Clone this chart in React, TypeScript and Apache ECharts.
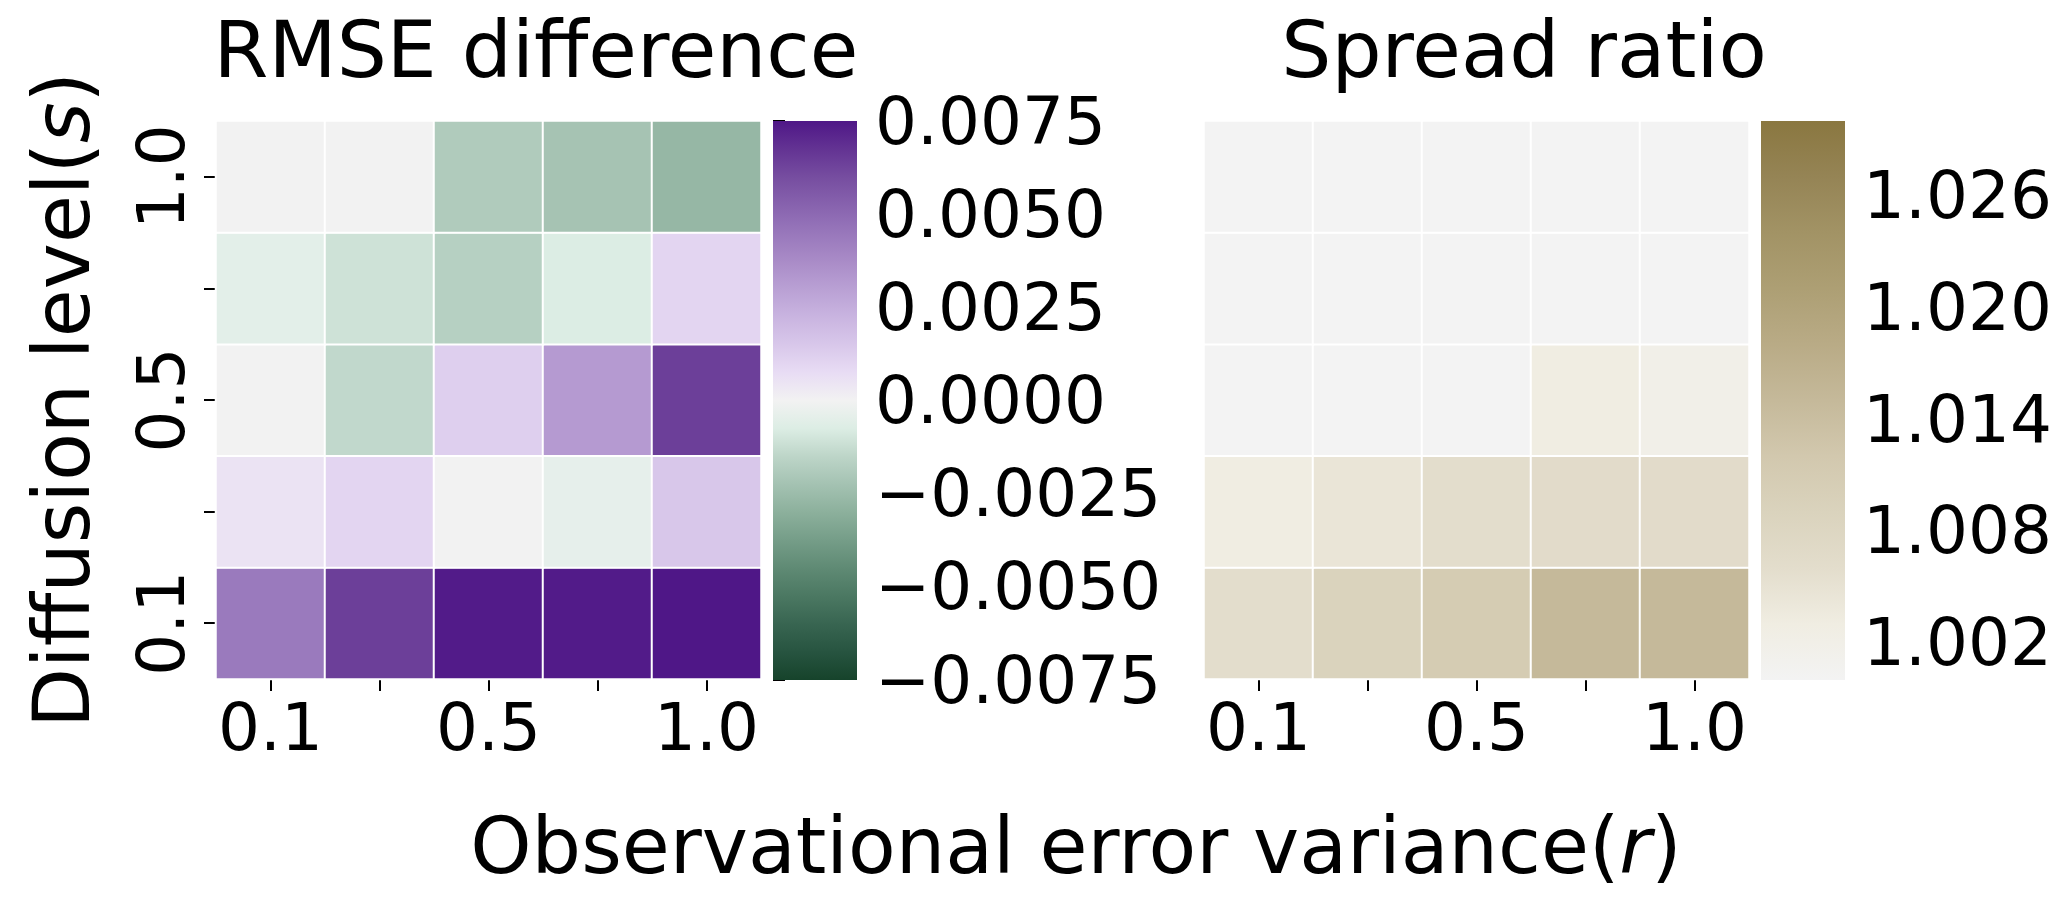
import React, { useEffect, useRef } from "react";
import * as echarts from "echarts";

// Observational error variance (r) – columns
const rLevels = ["0.1", "0.25", "0.5", "0.75", "1.0"];
// Diffusion level (s) – rows, bottom to top
const sLevels = ["0.1", "0.25", "0.5", "0.75", "1.0"];

// RMSE difference, rows by s (bottom → top), columns by r
const rmseDiff: number[][] = [
  [0.0044, 0.0064, 0.0074, 0.0074, 0.0075],
  [0.0005, 0.001, 0.0, -0.0004, 0.0015],
  [0.0, -0.0014, 0.0012, 0.0032, 0.0064],
  [-0.0005, -0.0011, -0.0017, -0.00075, 0.001],
  [0.0, 0.0, -0.0019, -0.0022, -0.0027],
];

// Spread ratio, rows by s (bottom → top), columns by r
const spreadRatio: number[][] = [
  [1.006, 1.009, 1.011, 1.015, 1.015],
  [1.003, 1.0045, 1.006, 1.0065, 1.0065],
  [1.0, 1.0, 1.0, 1.003, 1.002],
  [1.0, 1.0, 1.0, 1.0, 1.0],
  [1.0, 1.0, 1.0, 1.0, 1.0],
];

const rmseRange = [-0.0075, 0.0075];
const rmseTicks = [-0.0075, -0.005, -0.0025, 0, 0.0025, 0.005, 0.0075];
const spreadRange = [1.0, 1.03];
const spreadTicks = [1.002, 1.008, 1.014, 1.02, 1.026];

// evenly spaced colour stops from min to max
const rmseColors = [
  "#16432b", "#275440", "#386551", "#4b7862", "#5f8a74", "#759d88", "#8cb09c",
  "#a4c2b2", "#bdd5c8", "#dcede4", "#f2f2f2", "#e8dcf4", "#d8c7ea", "#c9b4e0",
  "#b9a0d4", "#a98bc7", "#9877bb", "#8762ae", "#764da0", "#633393", "#4f1787",
];
const spreadColors = [
  "#f3f3f3", "#f0ede2", "#e3ddcc", "#dad3bd", "#d2c8ae", "#c5b99a",
  "#b9ab86", "#ad9f74", "#a29365", "#958455", "#8a7740",
];

const FONT = "DejaVu Sans";
const TICK_FS = 66;
const TITLE_FS = 79;
const NAME_FS = 78;

function toCells(m: number[][]) {
  const out: number[][] = [];
  m.forEach((row, yi) => row.forEach((v, xi) => out.push([xi, yi, v])));
  return out;
}

function gradient(colors: string[]) {
  const rev = colors.slice().reverse();
  return new echarts.graphic.LinearGradient(
    0, 0, 0, 1,
    rev.map((c, i) => ({ offset: i / (rev.length - 1), color: c }))
  );
}

function colorbarSeries(idx: number, range: number[], colors: string[]) {
  return {
    type: "custom",
    xAxisIndex: idx,
    yAxisIndex: idx,
    silent: true,
    data: [[0, range[0]]],
    renderItem: (_p: any, api: any) => {
      const a = api.coord([0, range[1]]);
      const b = api.coord([1, range[0]]);
      return {
        type: "rect",
        shape: { x: a[0], y: a[1], width: b[0] - a[0], height: b[1] - a[1] },
        style: { fill: gradient(colors) },
      };
    },
  };
}

const tickStyle = { color: "#000", width: 2 };

function heatX(grid: number) {
  return {
    type: "category",
    gridIndex: grid,
    data: rLevels,
    axisLine: { show: false },
    axisTick: { show: true, interval: 0, alignWithLabel: true, length: 12, lineStyle: tickStyle },
    axisLabel: { interval: 1, fontSize: TICK_FS, color: "#000", margin: 15, fontFamily: FONT },
    splitLine: { show: false },
  };
}

function heatY(grid: number, show: boolean) {
  return {
    type: "category",
    gridIndex: grid,
    data: sLevels,
    axisLine: { show: false },
    axisTick: { show, interval: 0, alignWithLabel: true, length: 12, lineStyle: tickStyle },
    axisLabel: { show, interval: 1, rotate: 90, fontSize: TICK_FS, color: "#000", margin: 22, fontFamily: FONT },
    splitLine: { show: false },
  };
}

function cbX(grid: number) {
  return { type: "value", gridIndex: grid, min: 0, max: 1, show: false };
}

function cbY(grid: number, range: number[], ticks: number[], fmt: (v: number) => string) {
  return {
    type: "value",
    gridIndex: grid,
    position: "right",
    min: range[0],
    max: range[1],
    axisLine: { show: false },
    splitLine: { show: false },
    axisTick: { show: true, length: 12, lineStyle: tickStyle, customValues: ticks },
    axisLabel: {
      fontSize: TICK_FS, color: "#000", margin: 18, fontFamily: FONT,
      customValues: ticks, formatter: fmt,
    },
  };
}

export default function App() {
  const ref = useRef<HTMLDivElement>(null);
  useEffect(() => {
    if (!ref.current) return;
    const chart = echarts.init(ref.current, undefined, { renderer: "svg" });
    const option: any = {
      animation: false,
      textStyle: { fontFamily: FONT },
      grid: [
        { left: 216, top: 121, width: 545, height: 558 },
        { left: 773, top: 121, width: 84, height: 559 },
        { left: 1204, top: 121, width: 545, height: 558 },
        { left: 1761, top: 121, width: 84, height: 559 },
      ],
      xAxis: [heatX(0), cbX(1), heatX(2), cbX(3)],
      yAxis: [
        heatY(0, true),
        cbY(1, rmseRange, rmseTicks, (v: number) => {
          const s = Math.abs(v).toFixed(4);
          return v < -1e-9 ? "\u2212" + s : s;
        }),
        heatY(2, false),
        cbY(3, spreadRange, spreadTicks, (v: number) => v.toFixed(3)),
      ],
      visualMap: [
        { show: false, seriesIndex: 0, dimension: 2, min: rmseRange[0], max: rmseRange[1], inRange: { color: rmseColors } },
        { show: false, seriesIndex: 2, dimension: 2, min: spreadRange[0], max: spreadRange[1], inRange: { color: spreadColors } },
      ],
      series: [
        {
          type: "heatmap", xAxisIndex: 0, yAxisIndex: 0, data: toCells(rmseDiff),
          itemStyle: { borderColor: "#fff", borderWidth: 2 }, emphasis: { disabled: true },
        },
        colorbarSeries(1, rmseRange, rmseColors),
        {
          type: "heatmap", xAxisIndex: 2, yAxisIndex: 2, data: toCells(spreadRatio),
          itemStyle: { borderColor: "#fff", borderWidth: 2 }, emphasis: { disabled: true },
        },
        colorbarSeries(3, spreadRange, spreadColors),
      ],
      graphic: [
        {
          type: "text", x: 536, y: 50,
          style: { text: "RMSE difference", fontSize: TITLE_FS, fontFamily: FONT, fill: "#000", align: "center", verticalAlign: "middle" },
        },
        {
          type: "text", x: 1524, y: 50,
          style: { text: "Spread ratio", fontSize: TITLE_FS, fontFamily: FONT, fill: "#000", align: "center", verticalAlign: "middle" },
        },
        {
          type: "text", x: 1076, y: 846,
          style: {
            text: "Observational error variance({i|r})", fontSize: NAME_FS, fontFamily: FONT, fill: "#000",
            align: "center", verticalAlign: "middle",
            rich: { i: { fontSize: NAME_FS, fontFamily: FONT, fontStyle: "italic", fill: "#000" } },
          },
        },
        {
          type: "text", x: 62, y: 400, rotation: Math.PI / 2,
          style: {
            text: "Diffusion level({i|s})", fontSize: NAME_FS, fontFamily: FONT, fill: "#000",
            align: "center", verticalAlign: "middle",
            rich: { i: { fontSize: NAME_FS, fontFamily: FONT, fontStyle: "italic", fill: "#000" } },
          },
        },
      ],
    };
    chart.setOption(option);
    return () => chart.dispose();
  }, []);
  return (
    <div
      ref={ref}
      style={{ position: "absolute", left: 0, top: 0, width: 2067, height: 907, background: "#fff" }}
    />
  );
}
